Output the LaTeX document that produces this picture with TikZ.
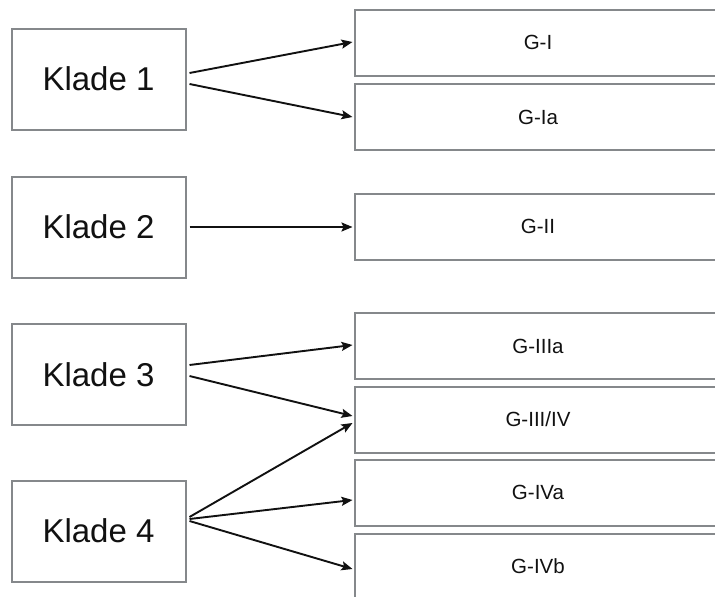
\documentclass[tikz,border=0pt]{standalone}
\usepackage{fontspec}
\setmainfont{Liberation Sans}
\usetikzlibrary{arrows.meta}
\definecolor{boxgray}{HTML}{85888B}
\definecolor{inkblack}{HTML}{111111}
\begin{document}
\begin{tikzpicture}[x=1pt,y=-1pt,
  box/.style={draw=boxgray, line width=2pt, fill=white, inner sep=0pt, outer sep=0pt, text=inkblack},
  klade/.style={box, minimum width=174pt, minimum height=101pt, font=\fontsize{33}{36}\selectfont},
  group/.style={box, minimum width=367pt, minimum height=66pt, font=\fontsize{20.5}{24}\selectfont},
  link/.style={draw=inkblack, line width=1.9pt, -{Stealth[length=11pt,width=9pt,inset=2pt]}}]
\useasboundingbox (0,0) rectangle (715,597);
\clip (0,0) rectangle (715,597);

% clades on the left
\node[klade] (k1) at (98.5,79)    {Klade 1};
\node[klade] (k2) at (98.5,227)   {Klade 2};
\node[klade] (k3) at (98.5,374.5) {Klade 3};
\node[klade] (k4) at (98.5,531)   {Klade 4};

% genotype groups on the right
\node[group] (g1)  at (538,42.5)  {G-I};
\node[group] (g1a) at (538,117)   {G-Ia};
\node[group] (g2)  at (538,226.5) {G-II};
\node[group] (g3a) at (538,346)   {G-IIIa};
\node[group] (g34) at (538,419.5) {G-III/IV};
\node[group] (g4a) at (538,492.5) {G-IVa};
\node[group] (g4b) at (538,566.5) {G-IVb};

% assignments
\draw[link] ([shift={(4,-6)}]k1.east)    -- ([shift={(-2,-0.5)}]g1.west);
\draw[link] ([shift={(4,5)}]k1.east)     -- ([shift={(-2,0)}]g1a.west);
\draw[link] ([shift={(4,0)}]k2.east)     -- ([shift={(-2,0.5)}]g2.west);
\draw[link] ([shift={(4,-9.5)}]k3.east)  -- ([shift={(-2,-1)}]g3a.west);
\draw[link] ([shift={(4,1.5)}]k3.east)   -- ([shift={(-2,-3.5)}]g34.west);
\draw[link] ([shift={(4,-14)}]k4.east)   -- ([shift={(-2,3.5)}]g34.west);
\draw[link] ([shift={(4,-12)}]k4.east)   -- ([shift={(-2,7.5)}]g4a.west);
\draw[link] ([shift={(4,-10)}]k4.east)   -- ([shift={(-2,2.5)}]g4b.west);
\end{tikzpicture}
\end{document}
